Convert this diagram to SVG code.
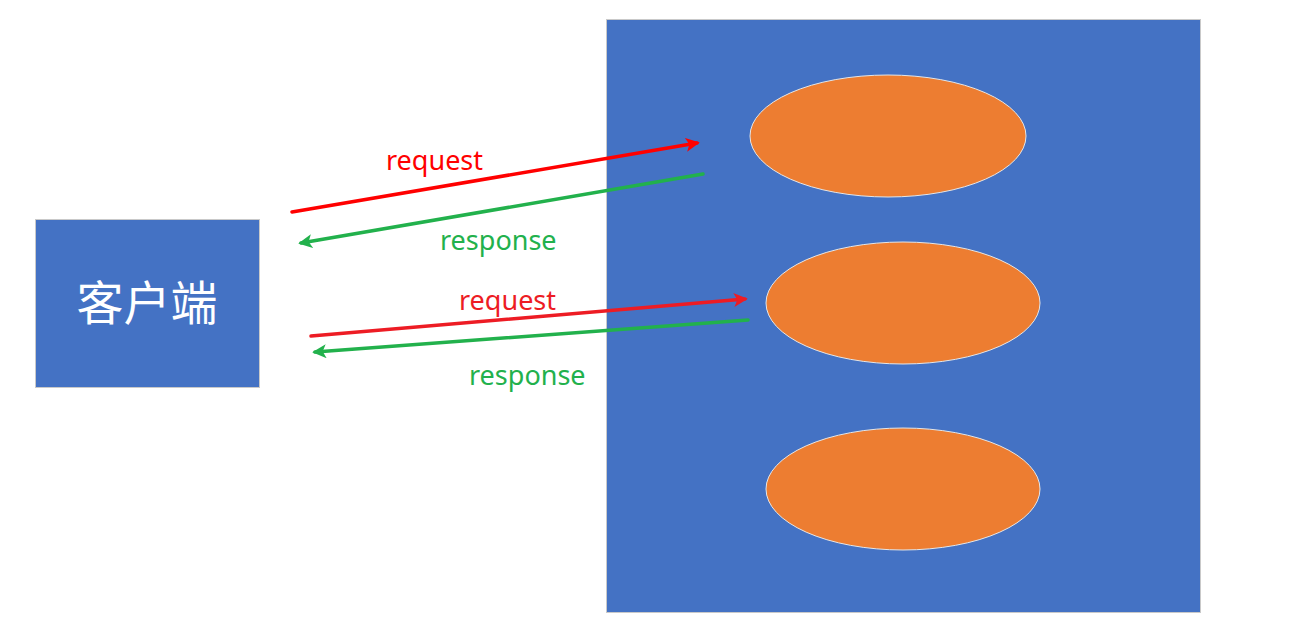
<svg xmlns="http://www.w3.org/2000/svg" width="1290" height="635" viewBox="0 0 1290 635">
<style>
.box{fill:#4472c4;stroke:#c9c9c9;stroke-width:1}
.ell{fill:#ed7d31;stroke:#e6e6e6;stroke-width:1}
.lbl{font-family:"Noto Sans","Open Sans",sans-serif;font-size:27px}
.cn{font-family:"Noto Sans CJK SC",sans-serif;font-size:47px;fill:#ffffff}
.ln{stroke-width:3.5;fill:none;stroke-linecap:round}
</style>
<defs>
<marker id="arR" viewBox="0 0 10 10" refX="8" refY="5" markerWidth="4" markerHeight="4" orient="auto" markerUnits="strokeWidth">
<path d="M0,0 L10,5 L0,10 L2.5,5 Z" fill="#ff0000"/>
</marker>
<marker id="arR2" viewBox="0 0 10 10" refX="8" refY="5" markerWidth="4" markerHeight="4" orient="auto" markerUnits="strokeWidth">
<path d="M0,0 L10,5 L0,10 L2.5,5 Z" fill="#ed1c24"/>
</marker>
<marker id="arG" viewBox="0 0 10 10" refX="8" refY="5" markerWidth="4" markerHeight="4" orient="auto" markerUnits="strokeWidth">
<path d="M0,0 L10,5 L0,10 L2.5,5 Z" fill="#22b14c"/>
</marker>
</defs>
<rect width="1290" height="635" fill="#ffffff"/>
<g id="server">
<rect class="box" x="606.5" y="19.5" width="594" height="593"/>
</g>
<g id="ellipse1"><ellipse class="ell" cx="888" cy="136" rx="138" ry="61"/></g>
<g id="ellipse2"><ellipse class="ell" cx="903" cy="303" rx="137" ry="61"/></g>
<g id="ellipse3"><ellipse class="ell" cx="903" cy="489" rx="137" ry="61"/></g>
<g id="client">
<rect class="box" x="35.5" y="219.5" width="224" height="168"/>
<text class="cn" x="147" y="320" text-anchor="middle">客户端</text>
</g>
<g id="connectors">
<line class="ln" x1="292" y1="212" x2="697" y2="143" stroke="#ff0000" marker-end="url(#arR)"/>
<line class="ln" x1="703" y1="174" x2="301" y2="243" stroke="#22b14c" marker-end="url(#arG)"/>
<line class="ln" x1="311" y1="336" x2="745" y2="299" stroke="#ed1c24" marker-end="url(#arR2)"/>
<line class="ln" x1="748" y1="320" x2="315" y2="352" stroke="#22b14c" marker-end="url(#arG)"/>
<text class="lbl" x="386" y="170" fill="#ff0000">request</text>
<text class="lbl" x="440" y="250" fill="#22b14c">response</text>
<text class="lbl" x="459" y="310" fill="#ed1c24">request</text>
<text class="lbl" x="469" y="385" fill="#22b14c">response</text>
</g>
</svg>
